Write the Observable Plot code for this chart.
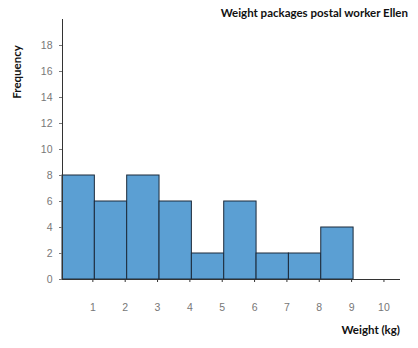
<!DOCTYPE html>
<html>
<head>
<meta charset="utf-8">
<script src="https://cdn.jsdelivr.net/npm/d3@7"></script>
<script src="https://cdn.jsdelivr.net/npm/@observablehq/plot@0.6"></script>
<style>
  html, body { margin: 0; padding: 0; background: #fff; }
  #chart { width: 418px; height: 348px; }
</style>
</head>
<body>
<div id="chart"></div>
<script>
const binStart = [0, 1, 2, 3, 4, 5, 6, 7, 8, 9];
const binEnd = [1, 2, 3, 4, 5, 6, 7, 8, 9, 10];
const frequency = [8, 6, 8, 6, 2, 6, 2, 2, 4, 0];
const xTicks = [1, 2, 3, 4, 5, 6, 7, 8, 9, 10];
const yTicks = [0, 2, 4, 6, 8, 10, 12, 14, 16, 18];
const title = "Weight packages postal worker Ellen";
const xLabel = "Weight (kg)";
const yLabel = "Frequency";

const data = binStart.map((s, i) => ({x1: s, x2: binEnd[i], y: frequency[i]}));

const plot = Plot.plot({
  width: 418,
  height: 348,
  marginLeft: 62,
  marginRight: 18,
  marginTop: 19,
  marginBottom: 69,
  style: {fontFamily: "Liberation Sans, Arial, sans-serif", fontSize: "10.5px", color: "#666", background: "#fff"},
  x: {domain: [0, 10.45], axis: null},
  y: {domain: [0, 20], axis: null},
  marks: [
    Plot.rectY(data.filter(d => d.y > 0), {x1: "x1", x2: "x2", y: "y", fill: "#5b9fd3", stroke: "#1c2a3a", strokeWidth: 1}),
    Plot.ruleY([0], {stroke: "#333", strokeWidth: 1}),
    Plot.ruleX([0], {stroke: "#333", strokeWidth: 1}),
    Plot.axisX(xTicks, {tickSize: 3, tickPadding: 21, dx: -2, stroke: "#333", fill: "#777", tickFormat: d => String(d), label: null}),
    Plot.axisY(yTicks, {tickSize: 3, tickPadding: 7, stroke: "#777", fill: "#777", tickFormat: d => String(d), label: null})
  ]
});

document.getElementById("chart").appendChild(plot);
const svg = d3.select(plot);
const font = "Lato, 'Open Sans', sans-serif";
svg.append("text").attr("x", 408).attr("y", 17).attr("text-anchor", "end")
  .attr("font-family", font).attr("font-weight", "bold").attr("font-size", "11.5px").attr("fill", "#111").text(title);
svg.append("text").attr("x", 400).attr("y", 334).attr("text-anchor", "end")
  .attr("font-family", font).attr("font-weight", "bold").attr("font-size", "11.5px").attr("fill", "#111").text(xLabel);
svg.append("text").attr("transform", "translate(21,72) rotate(-90)").attr("text-anchor", "middle")
  .attr("font-family", font).attr("font-weight", "bold").attr("font-size", "11.5px").attr("fill", "#111").text(yLabel);
</script>
</body>
</html>
